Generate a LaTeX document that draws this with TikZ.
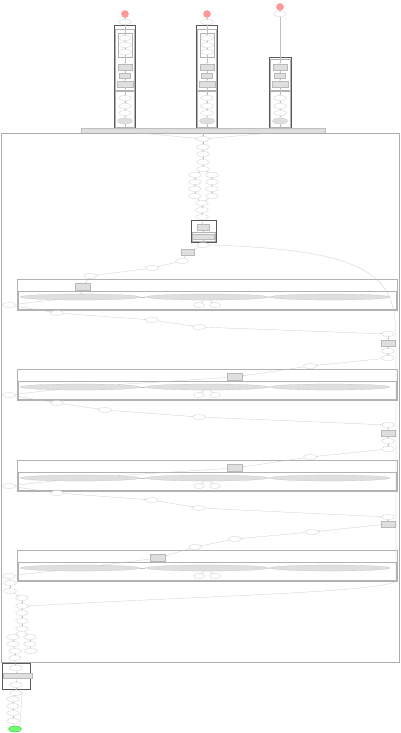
\documentclass[tikz,border=0pt]{standalone}
\usetikzlibrary{shapes.geometric,arrows.meta}
\newcommand\mkcolumn[2]{%
 \node[rednode] (#1r) at (#2,14) {};
 \node[el] (#1e0) at (#2,22) {};
 \draw[clus] (#2-11,25) rectangle (#2+10,128);
 \draw[sub] (#2-10,29) rectangle (#2+9,90);
 \draw[sub] (#2-7,33) rectangle (#2+7,57);
 \node[el] (#1e1) at (#2,38) {};
 \node[el] (#1e2) at (#2,45) {};
 \node[el] (#1e3) at (#2,52) {};
 \node[gr] (#1g1) at (#2,67) {};
 \node[gr,minimum width=11pt,minimum height=5pt] (#1g2) at (#2,76) {};
 \node[gr,minimum width=16pt] (#1g3) at (#2,84) {};
 \draw[sub] (#2-10,91) rectangle (#2+9,127);
 \node[el] (#1e4) at (#2,98) {};
 \node[el] (#1e5) at (#2,106) {};
 \node[el] (#1e6) at (#2,113) {};
 \node[gel,minimum width=15pt,minimum height=6pt] (#1e7) at (#2,121) {};
 \draw[ed] (#1r) -- (#1e0);
 \draw[ed] (#1e0) -- (#1e1);
 \draw[ed] (#1e1) -- (#1e2);
 \draw[ed] (#1e2) -- (#1e3);
 \draw[ed] (#1e3) -- (#1g1);
 \draw[ed] (#1g1) -- (#1g2);
 \draw[ed] (#1g2) -- (#1g3);
 \draw[ed] (#1g3) -- (#1e4);
 \draw[ed] (#1e4) -- (#1e5);
 \draw[ed] (#1e5) -- (#1e6);
 \draw[ed] (#1e6) -- (#1e7);
}
\newcommand\mkcluster[3]{%
 \draw[sub] (17,#2) rectangle (397,#2+31);
 \node[gr,minimum width=15pt,minimum height=7pt] (#1g) at (#3,#2+8) {};
 \draw[sub] (18,#2+12) rectangle (396,#2+30);
 \node[gel,minimum width=120pt,minimum height=6pt] (#1a) at (80,#2+18) {};
 \node[gel,minimum width=122pt,minimum height=6pt] (#1b) at (207,#2+18) {};
 \node[gel,minimum width=120pt,minimum height=6pt] (#1c) at (330,#2+18) {};
 \node[el,minimum width=11pt] (#1s) at (199,#2+26) {};
 \node[el,minimum width=11pt] (#1t) at (215,#2+26) {};
 \node[el,minimum width=13pt] (#1L) at (9,#2+26) {};
 \draw[ed] (#1g) -- (#1a);
 \draw[ed] (#1a) -- (#1b);
 \draw[ed] (#1b) -- (#1c);
 \draw[ed] (#1b) -- (#1s);
 \draw[ed] (#1b) -- (#1t);
 \draw[ed] (#1L) -- (#1a);
}
\begin{document}
\begin{tikzpicture}[x=1pt,y=-1pt,
 el/.style={ellipse,draw=gray!50,line width=0.2pt,minimum width=13pt,minimum height=5pt,inner sep=0pt,fill=white},
 gel/.style={el,fill=gray!25},
 gr/.style={rectangle,draw=gray!55,fill=gray!25,line width=0.2pt,minimum width=14pt,minimum height=6pt,inner sep=0pt},
 rednode/.style={circle,fill=red!40,draw=red!50,line width=0.3pt,minimum size=7pt,inner sep=0pt},
 greennode/.style={el,fill=green!55,draw=green!60!black,minimum width=13pt,minimum height=6pt},
 clus/.style={draw=gray!70!black,line width=0.8pt},
 big/.style={draw=gray!65,line width=0.9pt},
 sub/.style={draw=gray!60,line width=0.5pt},
 ed/.style={draw=gray!50,line width=0.2pt,-{Stealth[length=1.2pt,width=1pt]}}]
\fill[white] (0,0) rectangle (400,733);
\useasboundingbox (0,0) rectangle (400,733);

% top columns
\mkcolumn{A}{125}
\mkcolumn{B}{207}
% third column
\node[rednode] (Cr) at (280,7) {};
\node[el] (Ce0) at (280,14) {};
\draw[clus] (269,57) rectangle (291,128);
\draw[sub] (270,59) rectangle (290,90);
\node[gr] (Cg1) at (280,67) {};
\node[gr,minimum width=11pt,minimum height=5pt] (Cg2) at (280,76) {};
\node[gr,minimum width=16pt] (Cg3) at (280,84) {};
\draw[sub] (270,91) rectangle (290,127);
\node[el] (Ce4) at (280,98) {};
\node[el] (Ce5) at (280,106) {};
\node[el] (Ce6) at (280,113) {};
\node[gel,minimum width=15pt,minimum height=6pt] (Ce7) at (280,121) {};
\draw[ed] (Cr) -- (Ce0);
\draw[ed] (Ce0) -- (Cg1);
\draw[ed] (Cg1) -- (Cg2);
\draw[ed] (Cg2) -- (Cg3);
\draw[ed] (Cg3) -- (Ce4);
\draw[ed] (Ce4) -- (Ce5);
\draw[ed] (Ce5) -- (Ce6);
\draw[ed] (Ce6) -- (Ce7);

% band
\node[rectangle,fill=gray!25,draw=gray!50,line width=0.3pt,minimum width=244pt,minimum height=5pt,inner sep=0pt] (band) at (203,130.5) {};
\draw[ed] (Ae7) -- (Ae7 |- band.north);
\draw[ed] (Be7) -- (Be7 |- band.north);
\draw[ed] (Ce7) -- (Ce7 |- band.north);

% big cluster
\draw[big] (1,133.5) rectangle (399,662);

% chain
\node[el] (c1) at (203,139) {};
\node[el] (c2) at (203,147) {};
\node[el] (c3) at (203,154) {};
\node[el] (c4) at (203,162) {};
\node[el] (c5) at (203,169) {};
\node[el] (l1) at (195,175) {};
\node[el] (r1) at (212,175) {};
\node[el] (l2) at (195,182) {};
\node[el] (r2) at (212,182) {};
\node[el] (l3) at (195,189) {};
\node[el] (r3) at (212,189) {};
\node[el] (l4) at (195,196) {};
\node[el] (r4) at (212,196) {};
\node[el] (m1) at (202,203) {};
\node[el] (m2) at (202,210) {};
\node[el] (m3) at (202,217) {};
\draw[clus] (191,220) rectangle (216,242);
\node[gr,minimum width=12pt] (b1) at (203,227) {};
\draw[sub] (192,232) rectangle (215,241);
\node[gr,minimum width=22pt,minimum height=5pt] (b2) at (203,236.5) {};
\node[el] (d1) at (203,245) {};
\node[gr,minimum width=13pt] (dg) at (188,252.5) {};
\node[el] (d2) at (182,261) {};
\node[el] (d3) at (152,268) {};
\node[el] (d4) at (90,276) {};

\coordinate (bandL) at (140,133);
\coordinate (bandR) at (270,133);
\draw[ed] (band.south) -- (c1);
\draw[ed] (bandL) -- (c1);
\draw[ed] (bandR) -- (c1);
\draw[ed] (c1) -- (c2);
\draw[ed] (c2) -- (c3);
\draw[ed] (c3) -- (c4);
\draw[ed] (c4) -- (c5);
\draw[ed] (c5) -- (l1);
\draw[ed] (c5) -- (r1);
\draw[ed] (l1) -- (l2);
\draw[ed] (r1) -- (r2);
\draw[ed] (l2) -- (l3);
\draw[ed] (r2) -- (r3);
\draw[ed] (l3) -- (l4);
\draw[ed] (r3) -- (r4);
\draw[ed] (l4) -- (m1);
\draw[ed] (r4) -- (m1);
\draw[ed] (m1) -- (m2);
\draw[ed] (m2) -- (m3);
\draw[ed] (m3) -- (b1);
\draw[ed] (b1) -- (b2);
\draw[ed] (b2) -- (d1);
\draw[ed] (d1) -- (dg);
\draw[ed] (dg) -- (d2);
\draw[ed] (d2) -- (d3);
\draw[ed] (d3) -- (d4);

% repeated clusters
\mkcluster{K1}{279}{83}
\mkcluster{K2}{369}{235}
\mkcluster{K3}{460}{235}
\mkcluster{K4}{550}{158}
\draw[ed] (d4) -- (K1g);

% between K1 and K2
\node[el] (p1) at (57,313) {};
\node[el] (p2) at (152,320) {};
\node[el] (p3) at (199,327) {};
\node[el] (p4) at (388,334) {};
\node[gr] (pg) at (388,343) {};
\node[el] (p5) at (388,351) {};
\node[el] (p6) at (388,358) {};
\node[el] (p7) at (310,366) {};
\draw[ed] (K1L) -- (p1);
\draw[ed] (p1) -- (p2);
\draw[ed] (p2) -- (p3);
\draw[ed] (p3) -- (p4);
\draw[ed] (p4) -- (pg);
\draw[ed] (pg) -- (p5);
\draw[ed] (p5) -- (p6);
\draw[ed] (p6) -- (p7);
\draw[ed] (p7) -- (K2g);

% between K2 and K3
\node[el] (q1) at (57,403) {};
\node[el] (q2) at (105,410) {};
\node[el] (q3) at (199,417) {};
\node[el] (q4) at (388,425) {};
\node[gr] (qg) at (388,433) {};
\node[el] (q5) at (388,441) {};
\node[el] (q6) at (388,449) {};
\node[el] (q7) at (310,457) {};
\draw[ed] (K2L) -- (q1);
\draw[ed] (q1) -- (q2);
\draw[ed] (q2) -- (q3);
\draw[ed] (q3) -- (q4);
\draw[ed] (q4) -- (qg);
\draw[ed] (qg) -- (q5);
\draw[ed] (q5) -- (q6);
\draw[ed] (q6) -- (q7);
\draw[ed] (q7) -- (K3g);

% between K3 and K4
\node[el] (s1) at (57,493) {};
\node[el] (s2) at (152,500) {};
\node[el] (s3) at (199,508) {};
\node[el] (s4) at (388,517) {};
\node[gr] (sg) at (388,524) {};
\node[el] (s5) at (312,532) {};
\node[el] (s6) at (235,539) {};
\node[el] (s7) at (195,547) {};
\draw[ed] (K3L) -- (s1);
\draw[ed] (s1) -- (s2);
\draw[ed] (s2) -- (s3);
\draw[ed] (s3) -- (s4);
\draw[ed] (s4) -- (sg);
\draw[ed] (sg) -- (s5);
\draw[ed] (s5) -- (s6);
\draw[ed] (s6) -- (s7);
\draw[ed] (s7) -- (K4g);

% after K4
\node[el] (t1) at (10,583) {};
\node[el] (t2) at (10,591) {};
\node[el] (t3) at (22,598) {};
\node[el] (t4) at (22,606) {};
\node[el] (t5) at (22,613) {};
\node[el] (t6) at (22,621) {};
\node[el] (t7) at (22,629) {};
\node[el] (u1) at (13,637) {};
\node[el] (v1) at (30,637) {};
\node[el] (u2) at (13,644) {};
\node[el] (v2) at (30,644) {};
\node[el] (u3) at (15,651) {};
\node[el] (v3) at (31,651) {};
\node[el] (w) at (15,658) {};
\draw[ed] (K4L) -- (t1);
\draw[ed] (t1) -- (t2);
\draw[ed] (t2) -- (t3);
\draw[ed] (t3) -- (t4);
\draw[ed] (t4) -- (t5);
\draw[ed] (t5) -- (t6);
\draw[ed] (t6) -- (t7);
\draw[ed] (t7) -- (u1);
\draw[ed] (t7) -- (v1);
\draw[ed] (u1) -- (u2);
\draw[ed] (v1) -- (v2);
\draw[ed] (u2) -- (u3);
\draw[ed] (v2) -- (v3);
\draw[ed] (u3) -- (w);
\draw[ed] (d1.east) .. controls (380,250) and (396,280) .. (396,340) -- (396,580) .. controls (396,592) and (200,596) .. (t4.east);

% bottom cluster
\draw[clus] (2,663) rectangle (30,689);
\node[el] (z1) at (16,668) {};
\node[gr,minimum width=29pt,minimum height=5pt] (zg) at (17.5,676) {};
\node[el] (z2) at (16,685) {};
\node[el] (z3) at (16,693) {};
\node[el] (z4) at (13,699) {};
\node[el] (z5) at (13,706) {};
\node[el] (z6) at (13,713) {};
\node[el] (z7) at (13,721) {};
\node[greennode] (gn) at (15,729) {};
\draw[ed] (w) -- (z1);
\draw[ed] (z1) -- (zg);
\draw[ed] (zg) -- (z2);
\draw[ed] (z2) -- (z3);
\draw[ed] (z3) -- (z4);
\draw[ed] (z4) -- (z5);
\draw[ed] (z5) -- (z6);
\draw[ed] (z6) -- (z7);
\draw[ed] (z7) -- (gn);
\draw[ed] (z3.east) .. controls (21,700) and (21,720) .. (gn.north east);
\end{tikzpicture}
\end{document}
